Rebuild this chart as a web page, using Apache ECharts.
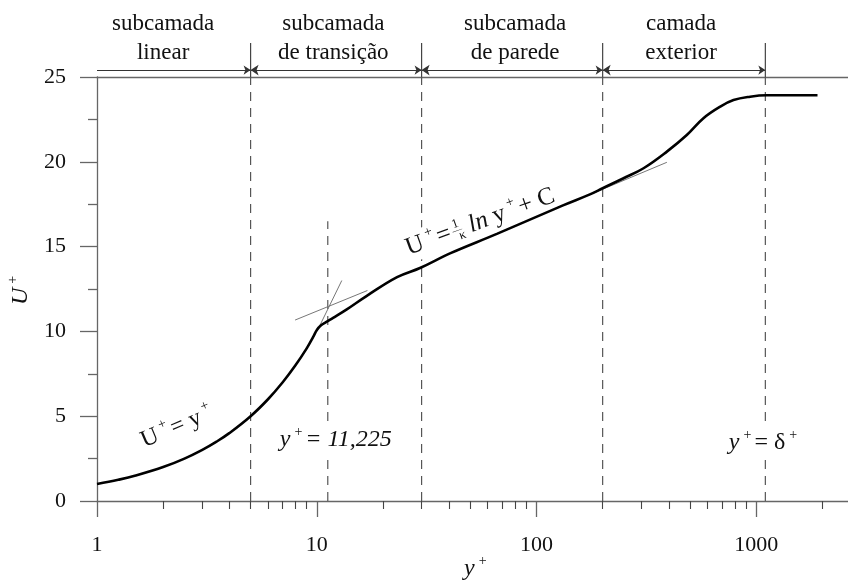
<!DOCTYPE html>
<html>
<head>
<meta charset="utf-8">
<script src="https://cdn.jsdelivr.net/npm/echarts@6/dist/echarts.min.js"></script>
<style>
  html, body { margin: 0; padding: 0; background: #fff; }
  #chart { width: 848px; height: 583px; }
</style>
</head>
<body>
<div id="chart"></div>
<script>
  // perfil de velocidade: U+ em funcao de y+
  const yPlus = [1, 1.25, 1.5, 2, 2.5, 3, 3.5, 4, 5, 6, 7, 8, 9, 9.62, 10.03, 10.46, 11.02, 11.87, 13.7, 16.9, 23.2, 29.5, 40.4, 66, 132, 175, 200, 249, 307, 392, 483, 575, 685, 788, 938, 1117, 1900]
  const uPlus = [1, 1.25, 1.5, 2, 2.5, 3, 3.5, 4, 5, 6, 7, 8, 9, 9.66, 10.1, 10.36, 10.55, 10.8, 11.3, 12.1, 13.2, 13.74, 14.6, 15.75, 17.43, 18.08, 18.44, 19.03, 19.62, 20.6, 21.58, 22.57, 23.25, 23.64, 23.84, 23.92, 23.92]

  // limites das subcamadas
  const layerBounds = [1, 5, 30, 200, 1100]
  const layerNames = ['subcamada\nlinear', 'subcamada\nde transição', 'subcamada\nde parede', 'camada\nexterior']
  const layerLabelAt = [2.0, 11.9, 80, 455]

  const transitionY = 11.225
  const transitionTop = 16.5

  // retas tangentes (finas)
  const viscousTangent = [[10.2, 10.2], [13, 13]]
  const logTangentLow = [[7.97, 10.67], [17, 12.41]]
  const logTangentHigh = [[170, 18.0], [392, 19.97]]

  const yTicks = [0, 5, 10, 15, 20, 25]

  const serif = "'Liberation Serif', 'Times New Roman', serif"
  const ink = '#111'
  const axisGray = '#666'

  const rich = {
    n: { fontFamily: serif, fontSize: 24, color: ink, lineHeight: 30, fontWeight: 'normal' },
    i: { fontFamily: serif, fontSize: 24, color: ink, fontStyle: 'italic', lineHeight: 30, fontWeight: 'normal' },
    s: { fontFamily: serif, fontSize: 14, color: ink, verticalAlign: 'top', lineHeight: 30, padding: [0, 3, 0, 4], fontWeight: 'normal' },
    f1: { fontFamily: serif, fontSize: 13, color: ink, verticalAlign: 'top', lineHeight: 30, width: 0, padding: [2, 0, 0, 1] },
    fb: { fontFamily: serif, fontSize: 10, color: ink, verticalAlign: 'middle', lineHeight: 30, width: 0 },
    fk: { fontFamily: serif, fontSize: 13, color: ink, verticalAlign: 'bottom', lineHeight: 30, padding: [0, 6, 2, 0] },
    m: { fontFamily: serif, fontSize: 25, color: ink, lineHeight: 30, fontWeight: 'normal' },
    mi: { fontFamily: serif, fontSize: 25, color: ink, fontStyle: 'italic', lineHeight: 30, fontWeight: 'normal' }
  }

  const notes = [
    { at: [2.34, 4.4], text: '{n|U}{s|+}{n|= y}{s|+}', rotate: 23, bg: null },
    { at: [12.2, 3.6], text: '{i|y}{s|+}{i|= 11,225}', rotate: 0, bg: '#fff' },
    { at: [55.4, 16.45], text: '{m|U}{s|+}{m|= }{f1|1}{fb|—}{fk|κ}{mi|ln }{m|y}{s|+}{m|+ C}', rotate: 20, bg: '#fff' },
    { at: [1090, 3.42], text: '{i|y}{s|+}{n|= δ}{s|+}', rotate: 0, bg: '#fff' }
  ]

  function thin(data) {
    return {
      type: 'line', data: data, showSymbol: false, silent: true,
      lineStyle: { color: '#777', width: 1 }, z: 3
    }
  }

  function dashed(x, top) {
    return {
      type: 'line', data: [[x, 0], [x, top]], showSymbol: false, silent: true,
      lineStyle: { color: '#555', width: 1.2, type: [9, 7] }, z: 2
    }
  }

  let series = []
  series.push({
    type: 'line',
    data: yPlus.map((x, i) => [x, uPlus[i]]),
    smooth: 0.4,
    showSymbol: false,
    lineStyle: { color: '#000', width: 2.6 },
    z: 5
  })
  series.push(thin(viscousTangent), thin(logTangentLow), thin(logTangentHigh))
  layerBounds.slice(1).forEach(b => series.push(dashed(b, 25)))
  series.push(dashed(transitionY, transitionTop))

  // faixa superior: separadores, setas e nomes das camadas
  layerBounds.slice(1).forEach(b => series.push({
    type: 'line', xAxisIndex: 2, yAxisIndex: 1,
    data: [[b, 0], [b, 0.44]], showSymbol: false, silent: true,
    lineStyle: { color: '#444', width: 1.2 }
  }))
  series.push({
    type: 'lines', coordinateSystem: 'cartesian2d', xAxisIndex: 2, yAxisIndex: 1,
    symbol: ['none', 'arrow'], symbolSize: [8, 7],
    lineStyle: { color: '#333', width: 1.2, opacity: 1 },
    data: [{ coords: [[layerBounds[0], 0.09], [layerBounds[1], 0.09]] }]
  })
  series.push({
    type: 'lines', coordinateSystem: 'cartesian2d', xAxisIndex: 2, yAxisIndex: 1,
    symbol: ['arrow', 'arrow'], symbolSize: [8, 7],
    lineStyle: { color: '#333', width: 1.2, opacity: 1 },
    data: layerBounds.slice(1, -1).map((b, i) => ({ coords: [[b, 0.09], [layerBounds[i + 2], 0.09]] }))
  })
  series.push({
    type: 'scatter', xAxisIndex: 2, yAxisIndex: 1, symbolSize: 0, silent: true,
    itemStyle: { opacity: 1 },
    data: layerNames.map((name, i) => ({ value: [layerLabelAt[i], 0.5], name: name })),
    label: {
      show: true, position: 'inside', formatter: p => p.name,
      fontFamily: serif, fontSize: 23, color: ink, lineHeight: 29, align: 'center'
    }
  })

  series.push({
    type: 'scatter', symbolSize: 0, silent: true, z: 4,
    itemStyle: { opacity: 1 },
    data: notes.map(n => ({
      value: n.at,
      label: {
        show: true, position: 'inside', formatter: n.text, rotate: n.rotate,
        backgroundColor: n.bg || 'transparent', padding: [0, 3], rich: rich
      }
    }))
  })

  const chart = echarts.init(document.getElementById('chart'), null, { renderer: 'canvas' })
  chart.setOption({
    backgroundColor: '#fff',
    animation: false,
    title: {
      text: '{i|y}{s|+}', left: 459, top: 549,
      textStyle: { fontWeight: 'normal', rich: rich }
    },
    grid: [
      { left: 97, right: -128, top: 77, bottom: 82, outerBoundsMode: 'none', containLabel: false },
      { left: 97, right: -128, top: 0, height: 77, outerBoundsMode: 'none', containLabel: false }
    ],
    xAxis: [
      {
        type: 'log', logBase: 10, min: 1, max: 10000, gridIndex: 0,
        axisLine: { lineStyle: { color: axisGray, width: 1.3 } },
        axisTick: { show: true, length: 16, lineStyle: { color: axisGray, width: 1.3 } },
        minorTick: { show: true, splitNumber: 9, length: 8, lineStyle: { color: '#444', width: 1.1 } },
        splitLine: { show: false },
        minorSplitLine: { show: false },
        axisLabel: { margin: 33, fontFamily: serif, fontSize: 22, color: ink, formatter: v => String(v) }
      },
      {
        type: 'value', position: 'top', min: 0, max: 1, gridIndex: 0,
        axisLine: { show: true, lineStyle: { color: axisGray, width: 1.3 } },
        axisTick: { show: false }, axisLabel: { show: false }, splitLine: { show: false }
      },
      {
        type: 'log', logBase: 10, min: 1, max: 10000, gridIndex: 1, show: false
      }
    ],
    yAxis: [
      {
        type: 'value', min: yTicks[0], max: yTicks[yTicks.length - 1], interval: 5, gridIndex: 0,
        name: '{i|U}{s|+}', nameLocation: 'middle', nameGap: 58,
        nameTextStyle: { rich: rich },
        axisLine: { show: true, lineStyle: { color: axisGray, width: 1.3 } },
        axisTick: { show: true, length: 17, lineStyle: { color: axisGray, width: 1.3 } },
        minorTick: { show: true, splitNumber: 2, length: 9, lineStyle: { color: axisGray, width: 1.3 } },
        splitLine: { show: false },
        axisLabel: { margin: 31, fontFamily: serif, fontSize: 22, color: ink }
      },
      { type: 'value', min: 0, max: 1, gridIndex: 1, show: false }
    ],
    series: series
  })
</script>
</body>
</html>
